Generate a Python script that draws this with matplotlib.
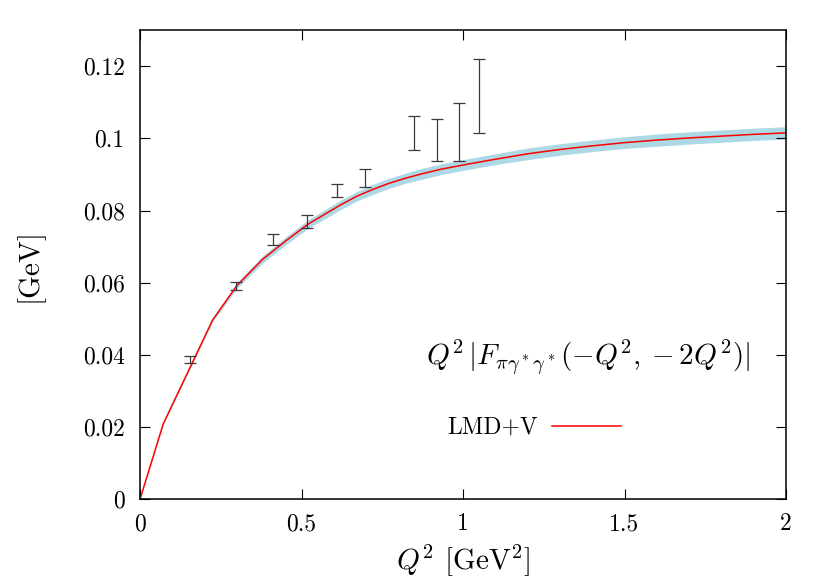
import matplotlib
matplotlib.use("Agg")
import matplotlib.pyplot as plt
import numpy as np

# LMD+V curve, Q^2 |F(-Q^2, -2Q^2)|
curve_q2 = [0.0, 0.072, 0.225, 0.30, 0.38, 0.45, 0.52, 0.62, 0.67, 0.72, 0.77, 0.82,
            0.87, 0.93, 1.0, 1.1, 1.2, 1.3, 1.4, 1.5, 1.6, 1.7, 1.8, 1.9, 2.0]
curve_val = [0.0, 0.0209, 0.0497, 0.0592, 0.0665, 0.0715, 0.0762, 0.0815, 0.0839,
             0.0858, 0.0875, 0.0889, 0.0901, 0.0914, 0.0926, 0.0942, 0.0957, 0.0969,
             0.0979, 0.0988, 0.0995, 0.1001, 0.1006, 0.1011, 0.1015]
band_half = [0.0, 0.0002, 0.0005, 0.0008, 0.0010, 0.0011, 0.0012, 0.0013, 0.0013,
             0.0014, 0.0014, 0.0014, 0.0015, 0.0015, 0.0015, 0.0015, 0.0016, 0.0016,
             0.0016, 0.0016, 0.0017, 0.0017, 0.0017, 0.0017, 0.0017]

# lattice points with asymmetric errors
pts_q2 = [0.155, 0.298, 0.413, 0.516, 0.609, 0.696, 0.849, 0.919, 0.987, 1.051]
pts_val = [0.0388, 0.0591, 0.0720, 0.0769, 0.0855, 0.0889, 0.1015, 0.0995, 0.1016, 0.1119]
pts_lo = [0.0378, 0.0580, 0.0704, 0.0752, 0.0837, 0.0864, 0.0967, 0.0936, 0.0936, 0.1016]
pts_hi = [0.0398, 0.0603, 0.0736, 0.0787, 0.0873, 0.0914, 0.1062, 0.1053, 0.1097, 0.1220]

x_ticks = [0, 0.5, 1, 1.5, 2]
x_tick_labels = ["0", "0.5", "1", "1.5", "2"]
y_ticks = [0, 0.02, 0.04, 0.06, 0.08, 0.1, 0.12]
y_tick_labels = ["0", "0.02", "0.04", "0.06", "0.08", "0.1", "0.12"]

plt.rcParams["font.family"] = "serif"
plt.rcParams["font.serif"] = ["cmr10", "DejaVu Serif"]
plt.rcParams["mathtext.fontset"] = "cm"
plt.rcParams["axes.unicode_minus"] = False

fig = plt.figure(figsize=(8.30, 5.81), dpi=100)
fig.subplots_adjust(left=140 / 830, right=786 / 830, bottom=1 - 499.3 / 581, top=1 - 30 / 581)
ax = fig.add_subplot(111)

cx = np.array(curve_q2)
cy = np.array(curve_val)
hw = np.array(band_half)
ax.fill_between(cx, cy - hw, cy + hw, color="#add8e6", lw=0, zorder=1)
ax.plot(cx, cy, color="#ff0000", lw=1.1, zorder=2, label="LMD+V")

py = np.array(pts_val)
yerr = np.vstack([py - np.array(pts_lo), np.array(pts_hi) - py])
ax.errorbar(pts_q2, py, yerr=yerr, fmt="none", ecolor="#3a3a3a", elinewidth=0.9,
            capsize=4, capthick=0.9, zorder=3)

ax.set_xlim(0, 2)
ax.set_ylim(0, 0.13)
ax.set_xticks(x_ticks)
ax.set_xticklabels(x_tick_labels)
ax.set_yticks(y_ticks)
ax.set_yticklabels(y_tick_labels)
ax.tick_params(direction="in", length=7, width=0.8, top=True, right=True, labelsize=17)
ax.tick_params(axis="y", pad=11)
ax.tick_params(axis="x", pad=10)
for sp in ax.spines.values():
    sp.set_linewidth(1.1)

ax.set_xlabel(r"$Q^2$ [GeV$^2$]", fontsize=21, labelpad=5)
ax.set_ylabel("[GeV]", fontsize=21, labelpad=28)

ax.text(0.944, 0.303, r"$Q^2\,|F_{\pi\gamma^*\gamma^*}(-Q^2,-2Q^2)|$", transform=ax.transAxes,
        ha="right", va="center", fontsize=21)

ax.legend(loc="center right", bbox_to_anchor=(0.759, 0.152), frameon=False, markerfirst=False,
          handlelength=2.9, handletextpad=0.6, fontsize=17, borderaxespad=0)

fig.savefig("out.png", dpi=100)
